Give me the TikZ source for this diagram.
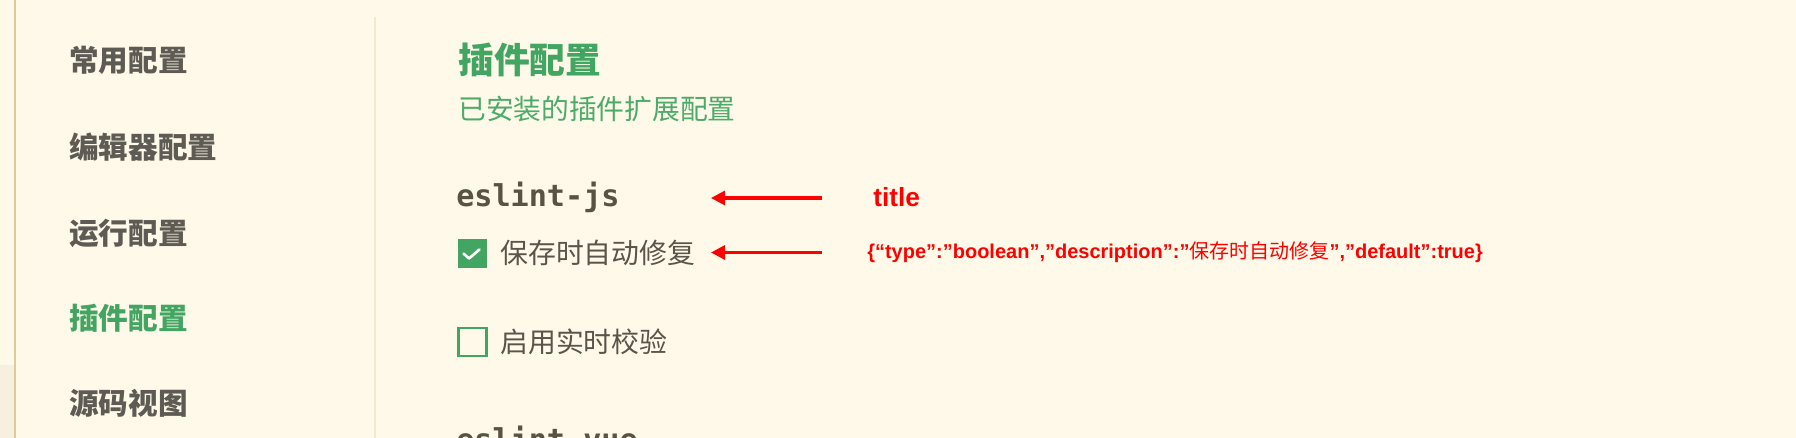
\documentclass[tikz,border=0pt]{standalone}
\usepackage{fontspec}
\setmainfont{Liberation Sans}
\newfontfamily\cjk{Noto Sans CJK SC}
\newfontfamily\monof{DejaVu Sans Mono}
\usetikzlibrary{arrows.meta}
\definecolor{bg}{HTML}{FEF9E8}
\definecolor{bgdark}{HTML}{F6F0DD}
\definecolor{tan}{HTML}{DCCB9E}
\definecolor{sep}{HTML}{F1EAD2}
\definecolor{sidegray}{HTML}{5E5A54}
\definecolor{uigreen}{HTML}{42A562}
\definecolor{subgreen}{HTML}{4CAB69}
\definecolor{bodytext}{HTML}{5A554B}
\definecolor{monotext}{HTML}{5A5243}
\definecolor{annot}{HTML}{FF0000}
\tikzset{
  side/.style={anchor=west, inner sep=0pt, text=sidegray, font=\cjk\bfseries\fontsize{22.2}{25}\selectfont},
  sideactive/.style={side, text=uigreen},
  mainttl/.style={anchor=west, inner sep=0pt, text=uigreen, font=\cjk\bfseries\fontsize{26.8}{30}\selectfont},
  subttl/.style={anchor=west, inner sep=0pt, text=subgreen, font=\cjk\fontsize{20.8}{24}\selectfont},
  plug/.style={anchor=west, inner sep=0pt, text=monotext, font=\monof\bfseries\fontsize{22.6}{26}\selectfont},
  optlabel/.style={anchor=west, inner sep=0pt, text=bodytext, font=\cjk\fontsize{20.9}{24}\selectfont},
  boxon/.style={fill=uigreen, draw=none},
  boxoff/.style={draw=uigreen, line width=1.6pt, fill=none},
  tick/.style={draw=white, line width=2pt, line cap=round, line join=round},
  annarrow/.style={draw=annot, line width=2.4pt, -{Triangle[length=10.5pt,width=10.5pt]}},
  anntitle/.style={anchor=west, inner sep=0pt, text=annot, font=\bfseries\fontsize{19.7}{22}\selectfont},
  annjson/.style={anchor=west, inner sep=0pt, text=annot, font=\bfseries\fontsize{15}{18}\selectfont}
}
\begin{document}
\begin{tikzpicture}[x=0.75pt,y=-0.75pt]
\useasboundingbox (0,0) rectangle (1796,438);
\fill[bg] (0,0) rectangle (1796,438);
\fill[bgdark] (0,365) rectangle (14,438);
\draw[tan, line width=1.6pt] (15,0) -- (15,438);
\draw[sep, line width=1.5pt] (375,17) -- (375,438);

% sidebar
\node[side] (s1) at (69,60) {常用配置};
\node[side] (s2) at (69,147) {编辑器配置};
\node[side] (s3) at (69,233) {运行配置};
\node[sideactive] (s4) at (69,318) {插件配置};
\node[side] (s5) at (69,403) {源码视图};

% main
\node[mainttl] (t) at (458,60) {插件配置};
\node[subttl] (st) at (458,109) {已安装的插件扩展配置};
\node[plug] (p1) at (456,197) {eslint-js};
\fill[boxon] (458,239) rectangle (487,268);
\draw[tick] (463.5,253.5) -- (469,258.5) -- (479.5,249.5);
\node[optlabel] (o1) at (500,253) {保存时自动修复};
\draw[boxoff] (458.5,328) rectangle (486.5,356);
\node[optlabel] (o2) at (500,342) {启用实时校验};
\node[plug] (p2) at (456,438) {eslint-vue};

% annotations
\coordinate (a1s) at (822,198);
\coordinate (a1e) at (711,198);
\coordinate (a2s) at (822,252.5);
\coordinate (a2e) at (711,252.5);
\draw[annarrow] (a1s) -- (a1e);
\draw[annarrow] (a2s) -- (a2e);
\node[anntitle] (lt) at (873,197) {title};
\node[annjson] (lj) at (867,252) {\{“type”:”boolean”,”description”:”{\cjk\mdseries 保存时自动修复}”,”default”:true\}};
\end{tikzpicture}
\end{document}
